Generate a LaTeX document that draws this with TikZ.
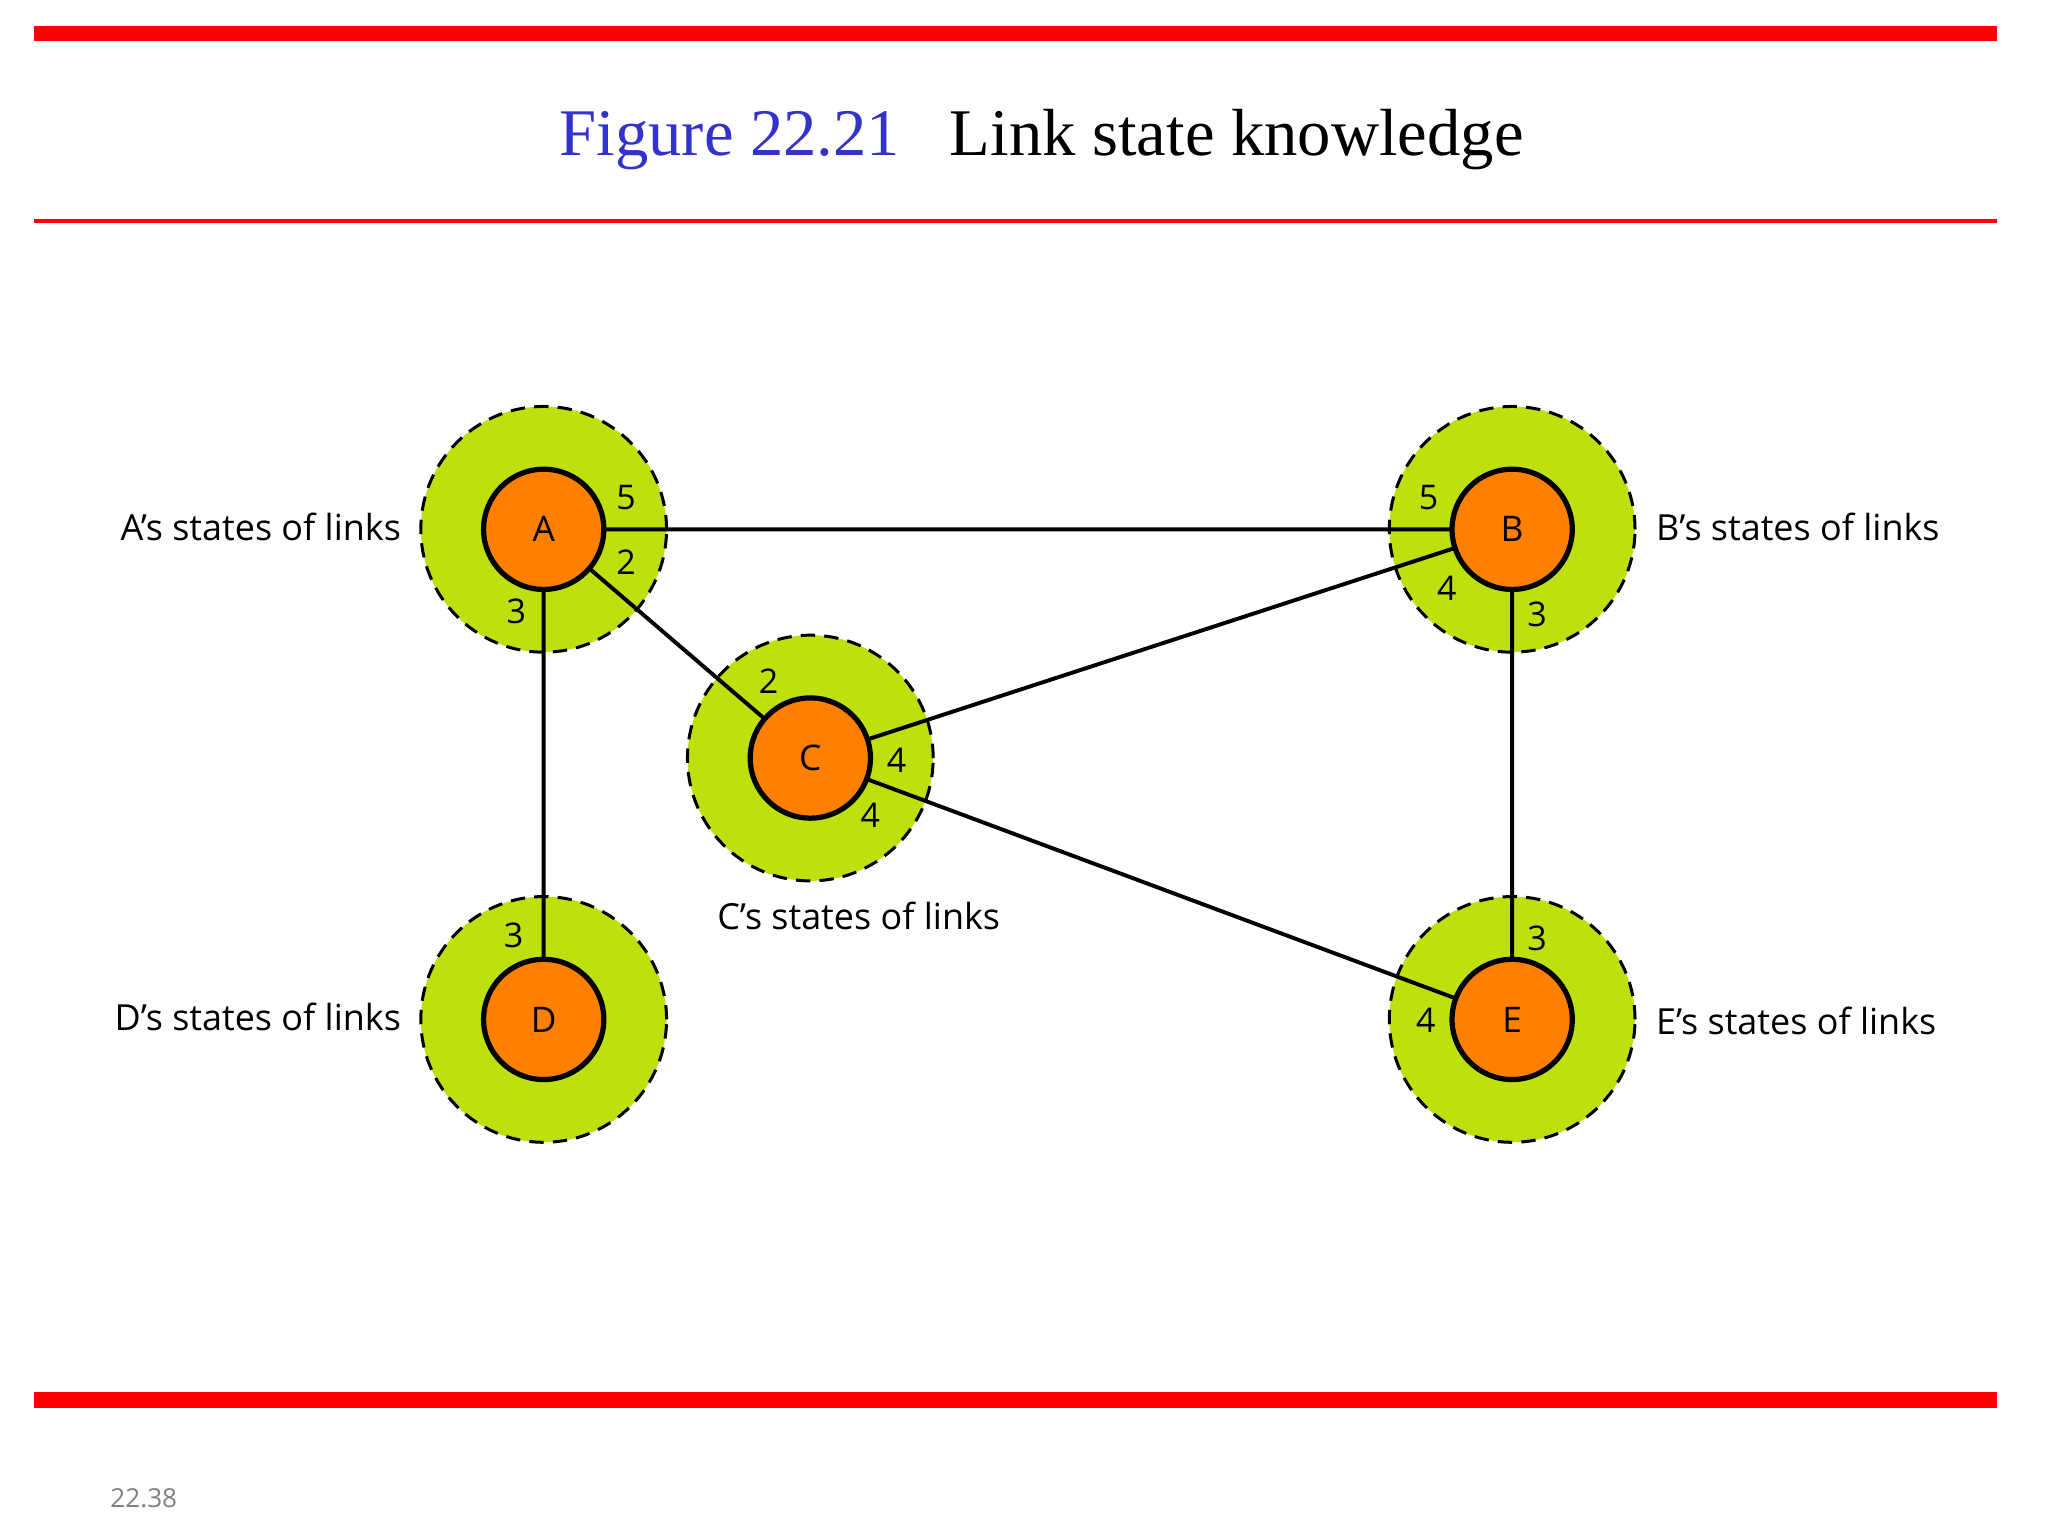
\documentclass[tikz,border=0pt]{standalone}
\usepackage{fontspec}
\setmainfont{Liberation Serif}
\newfontfamily\lab{Open Sans}
\definecolor{grn}{HTML}{BEE00F}
\definecolor{org}{HTML}{FF7F00}
\definecolor{ttl}{HTML}{3333CC}
\begin{document}
\begin{tikzpicture}[x=1pt,y=-1pt,
  outer/.style={circle,fill=grn,draw=black,line width=2.3pt,dash pattern=on 11pt off 7pt,minimum size=188pt,inner sep=0pt},
  inner/.style={circle,fill=org,draw=black,line width=4pt,minimum size=92pt,inner sep=0pt,font=\lab\fontsize{27}{30}\selectfont},
  edge/.style={line width=3pt},
  num/.style={font=\lab\fontsize{26}{30}\selectfont,inner sep=0pt},
  lbl/.style={font=\lab\fontsize{27.5}{32}\selectfont,inner sep=0pt}]
\useasboundingbox (0,0) rectangle (1567,1175);
\fill[red] (26,20) rectangle (1528,31);
\fill[red] (26,167.5) rectangle (1528,170.5);
\fill[red] (26,1065) rectangle (1528,1077);
\node[inner sep=0pt,font=\fontsize{51}{56}\selectfont] (title) at (797,107) {\textcolor{ttl}{Figure 22.21}\hspace{38pt}Link state knowledge};
\node[inner sep=0pt,text=gray,font=\lab\fontsize{20}{22}\selectfont] (pg) at (110,1146) {22.38};
\foreach \n/\x/\y in {A/416/405,B/1157/405,C/620/580,D/416/780,E/1157/780}{
  \node[outer] (o\n) at (\x,\y) {};
}
\coordinate (cA) at (416,405); \coordinate (cB) at (1157,405);
\coordinate (cC) at (620,580); \coordinate (cD) at (416,780);
\coordinate (cE) at (1157,780);
\draw[edge] (cA)--(cB) (cA)--(cC) (cA)--(cD) (cC)--(cB) (cC)--(cE) (cB)--(cE);
\foreach \n in {A,B,C,D,E}{ \node[inner] (\n) at (c\n) {\n}; }
\node[num] (nA5) at (479,381) {5}; \node[num] (nA2) at (479,430) {2}; \node[num] (nA3) at (395,468) {3};
\node[num] (nB5) at (1093,381) {5}; \node[num] (nB4) at (1107,450) {4}; \node[num] (nB3) at (1176,470) {3};
\node[num] (nC2) at (588,521) {2}; \node[num] (nC4a) at (686,582) {4}; \node[num] (nC4b) at (666,624) {4};
\node[num] (nD3) at (393,716) {3};
\node[num] (nE3) at (1176,718) {3}; \node[num] (nE4) at (1091,781) {4};
\node[lbl,anchor=east] (lA) at (307,403) {A’s states of links};
\node[lbl,anchor=west] (lB) at (1267,403) {B’s states of links};
\node[lbl] (lC) at (657,701) {C’s states of links};
\node[lbl,anchor=east] (lD) at (307,778) {D’s states of links};
\node[lbl,anchor=west] (lE) at (1267,781) {E’s states of links};
\end{tikzpicture}
\end{document}
